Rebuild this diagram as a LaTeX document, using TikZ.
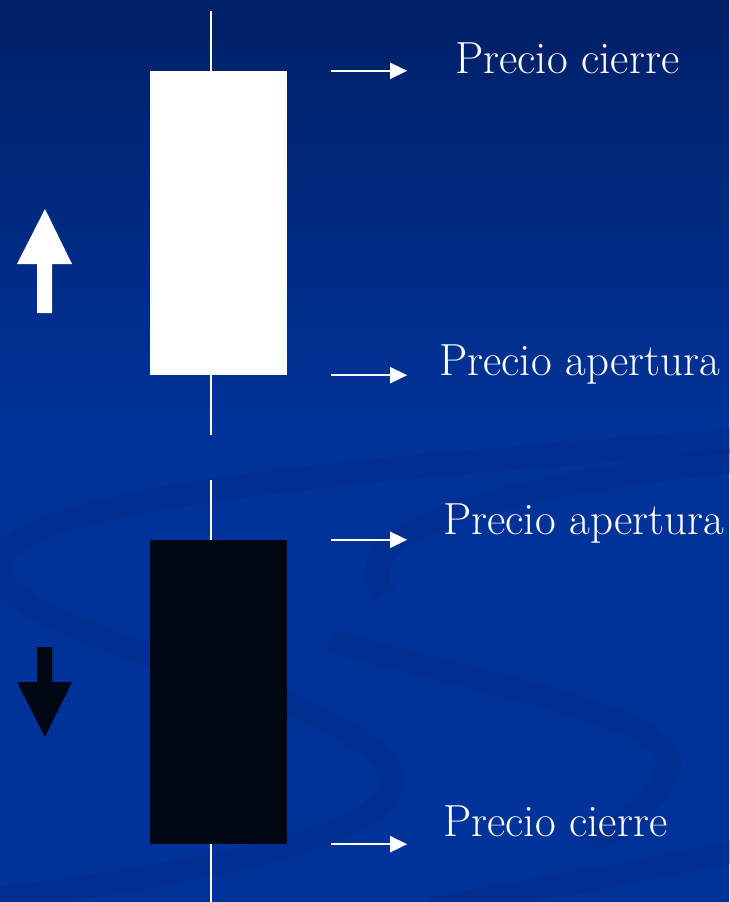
\documentclass[tikz,border=0pt]{standalone}
\usetikzlibrary{arrows.meta,positioning}
\definecolor{fondoarriba}{RGB}{0,32,102}
\definecolor{fondo}{RGB}{0,51,153}
\definecolor{remolino}{RGB}{0,40,128}
\definecolor{negra}{RGB}{0,6,20}
\tikzset{
  vela/.style={minimum width=137pt, minimum height=304pt, inner sep=0pt, draw=none},
  mecha/.style={white, line width=1.8pt},
  flecha/.style={white, line width=1.8pt, -{Triangle[length=17pt,width=16pt]}},
  etiqueta/.style={text=white, anchor=base west, inner sep=0pt, font=\fontsize{45}{54}\selectfont},
  banda/.style={remolino, line width=24pt, opacity=0.3}
}
\begin{document}
\begin{tikzpicture}[x=1pt,y=-1pt]
  \useasboundingbox (0,0) rectangle (729,902);
  % fondo
  \fill[fondo] (0,0) rectangle (729,902);
  \shade[top color=fondoarriba, bottom color=fondo] (0,0) rectangle (729,430);
  % remolinos
  \draw[banda] (740,440) .. controls (350,470) and (-60,500) .. (5,585)
    .. controls (60,650) and (340,690) .. (390,770)
    .. controls (420,840) and (150,880) .. (-10,900);
  \draw[banda] (740,460) .. controls (560,480) and (330,520) .. (385,595);
  \draw[banda] (330,640) .. controls (500,690) and (700,720) .. (665,775)
    .. controls (650,810) and (620,830) .. (590,840);
  \draw[banda] (740,850) .. controls (600,880) and (500,895) .. (430,910);
  % vela alcista
  \node[vela, fill=white] (alcista) at (218.5,223) {};
  \coordinate (alcista max) at (211,11);
  \coordinate (alcista min) at (211,435);
  \draw[mecha] (alcista max) -- (alcista max |- alcista.north);
  \draw[mecha] (alcista max |- alcista.south) -- (alcista min);
  % vela bajista
  \node[vela, fill=negra] (bajista) at (218.5,692) {};
  \coordinate (bajista max) at (211,480);
  \coordinate (bajista min) at (211,902);
  \draw[mecha] (bajista max) -- (bajista max |- bajista.north);
  \draw[mecha] (bajista max |- bajista.south) -- (bajista min);
  % flechas de tendencia
  \fill[white] (45,209) -- (72,264) -- (52,264) -- (52,313) -- (37,313) -- (37,264) -- (17,264) -- cycle;
  \fill[negra] (45,737) -- (72,682) -- (52,682) -- (52,647) -- (37,647) -- (37,682) -- (17,682) -- cycle;
  % etiquetas
  \node[etiqueta] (cierre alcista) at (455,73) {Precio cierre};
  \node[etiqueta] (apertura alcista) at (439,375) {Precio apertura};
  \node[etiqueta] (apertura bajista) at (443,534) {Precio apertura};
  \node[etiqueta] (cierre bajista) at (443,836) {Precio cierre};
  \draw[flecha] ([xshift=44pt]alcista.north east) -- ([xshift=120pt]alcista.north east);
  \draw[flecha] ([xshift=44pt]alcista.south east) -- ([xshift=120pt]alcista.south east);
  \draw[flecha] ([xshift=44pt]bajista.north east) -- ([xshift=120pt]bajista.north east);
  \draw[flecha] ([xshift=44pt]bajista.south east) -- ([xshift=120pt]bajista.south east);
\end{tikzpicture}
\end{document}
